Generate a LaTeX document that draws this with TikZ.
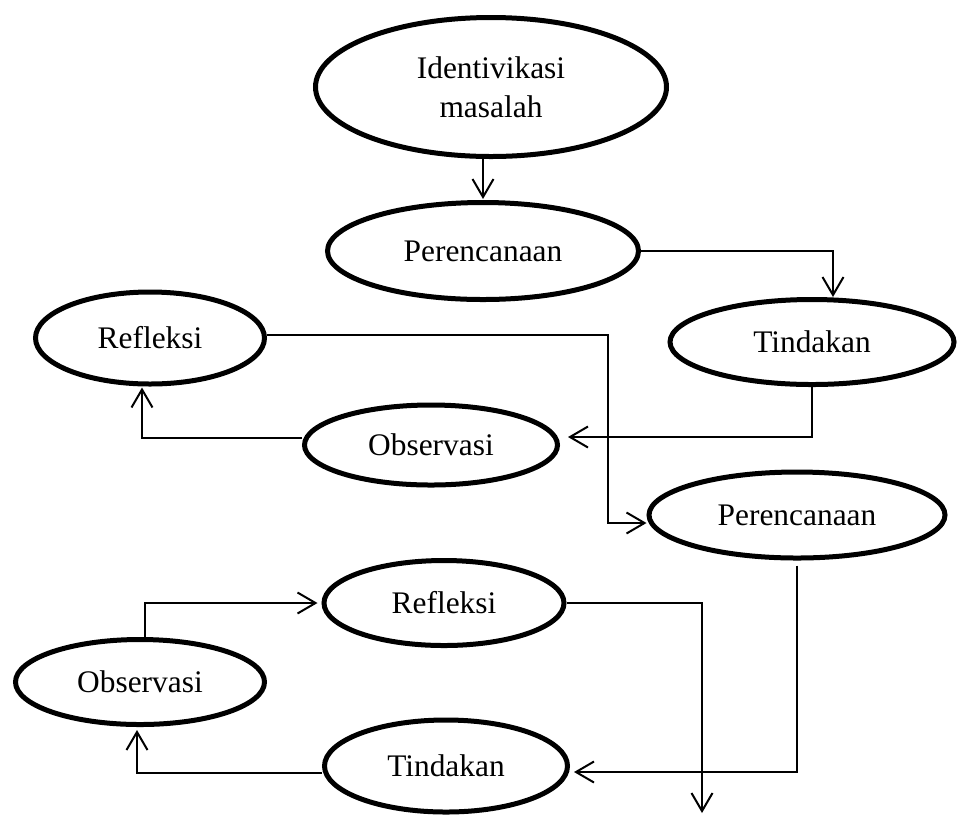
\documentclass[tikz,border=0pt]{standalone}
\usepackage{fontspec}
\setmainfont{Liberation Serif}
\usetikzlibrary{shapes.geometric,arrows.meta}
\begin{document}
\begin{tikzpicture}[x=0.5pt,y=-0.5pt,
  oval/.style={ellipse, draw, line width=2.5pt, inner sep=0pt,
    font=\fontsize{15.7}{19.5}\selectfont, align=center},
  conn/.style={line width=1pt, line join=miter,
    -{Straight Barb[length=9pt,width=10.5pt,line width=1pt]}}]
\useasboundingbox (0,0) rectangle (958,816);

\node[oval, minimum width=175.5pt, minimum height=69.5pt] (id) at (491,87) {Identivikasi\\masalah};
\node[oval, minimum width=155.5pt, minimum height=48.5pt] (p1) at (483,251) {Perencanaan};
\node[oval, minimum width=142pt, minimum height=42.5pt] (t1) at (812,342) {Tindakan};
\node[oval, minimum width=114.5pt, minimum height=46pt] (r1) at (150,338) {Refleksi};
\node[oval, minimum width=126.5pt, minimum height=40pt] (o1) at (431,445) {Observasi};
\node[oval, minimum width=148pt, minimum height=43pt] (p2) at (797,515) {Perencanaan};
\node[oval, minimum width=120pt, minimum height=42.5pt] (r2) at (444,603) {Refleksi};
\node[oval, minimum width=124.5pt, minimum height=42.5pt] (o2) at (140,682) {Observasi};
\node[oval, minimum width=121.5pt, minimum height=46pt] (t2) at (446,766) {Tindakan};

\coordinate (k1) at (608,335);
\coordinate (c9) at (702,813);

\draw[conn] (p1.north |- id.south) -- ([shift={(0,-1)}]p1.north);
\draw[conn] (p1.east) -| ([shift={(21,0)}]t1.north);
\draw[conn] (t1.south) |- ([shift={(8,-8)}]o1.east);
\draw[conn] ([shift={(0,-7)}]o1.west) -| ([shift={(-8,1)}]r1.south);
\draw[conn] ([shift={(0,-3)}]r1.east) -- (k1) |- ([shift={(0,8)}]p2.west);
\draw[conn] ([shift={(0,5)}]p2.south) |- ([shift={(4,6)}]t2.east);
\draw[conn] ([shift={(0,7)}]t2.west) -| ([shift={(-3,3)}]o2.south);
\draw[conn] ([shift={(5,0)}]o2.north) |- ([shift={(-4,0)}]r2.west);
\draw[conn] (r2.east) -| (c9);
\end{tikzpicture}
\end{document}
